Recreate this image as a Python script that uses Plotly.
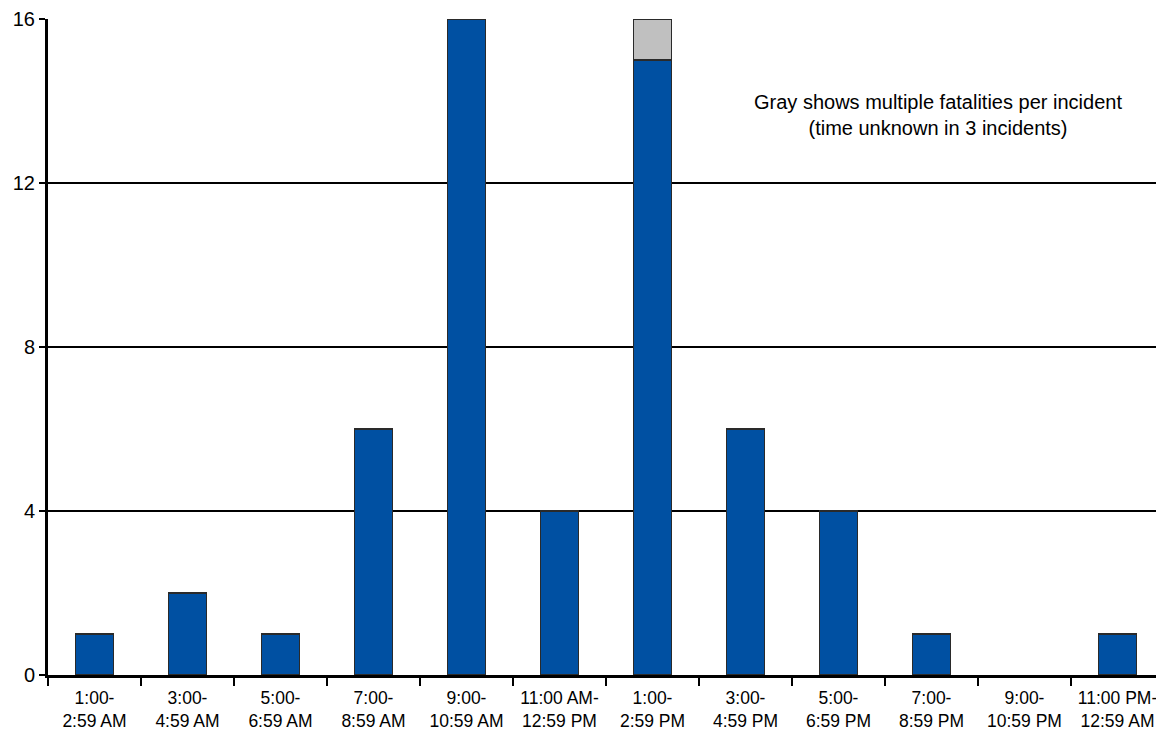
import plotly.graph_objects as go

categories = ["1:00-<br>2:59 AM", "3:00-<br>4:59 AM", "5:00-<br>6:59 AM", "7:00-<br>8:59 AM",
              "9:00-<br>10:59 AM", "11:00 AM-<br>12:59 PM", "1:00-<br>2:59 PM", "3:00-<br>4:59 PM",
              "5:00-<br>6:59 PM", "7:00-<br>8:59 PM", "9:00-<br>10:59 PM", "11:00 PM-<br>12:59 AM"]
single_fatalities = [1, 2, 1, 6, 16, 4, 15, 6, 4, 1, 0, 1]
multiple_fatalities = [0, 0, 0, 0, 0, 0, 1, 0, 0, 0, 0, 0]
y_ticks = [0, 4, 8, 12, 16]

fig = go.Figure()
fig.add_trace(go.Bar(x=categories, y=[v if v else None for v in single_fatalities],
                     marker=dict(color="#0050A2", line=dict(color="#2a2a2a", width=1.5)),
                     width=0.41, showlegend=False))
fig.add_trace(go.Bar(x=categories, y=[v if v else None for v in multiple_fatalities],
                     marker=dict(color="#C0C0C0", line=dict(color="#2a2a2a", width=1.5)),
                     width=0.41, showlegend=False))

fig.update_layout(
    barmode="stack",
    width=1156, height=739,
    margin=dict(l=40, r=0, t=11, b=72),
    paper_bgcolor="white", plot_bgcolor="white",
    font=dict(family="Liberation Sans, Arial, sans-serif", size=18, color="black"),
    xaxis=dict(tickson="boundaries", ticks="outside", ticklen=8, tickwidth=2, tickcolor="black",
               showline=True, linecolor="black", linewidth=2.5, showgrid=False,
               tickfont=dict(size=17.5), tickangle=0, automargin=False, ticklabelstandoff=5),
    yaxis=dict(range=[0, 16], tickvals=y_ticks, ticks="outside", ticklen=6, tickwidth=2, tickcolor="black",
               showline=True, linecolor="black", linewidth=3, showgrid=True, gridcolor="black", gridwidth=1.5,
               zeroline=False, tickfont=dict(size=20), automargin=False),
    annotations=[dict(x=0.7975, y=0.854, xref="paper", yref="paper", xanchor="center", yanchor="middle",
                      showarrow=False,
                      text="Gray shows multiple fatalities per incident<br>(time unknown in 3 incidents)",
                      font=dict(size=20), align="center")],
)

fig.write_html("out.html")
